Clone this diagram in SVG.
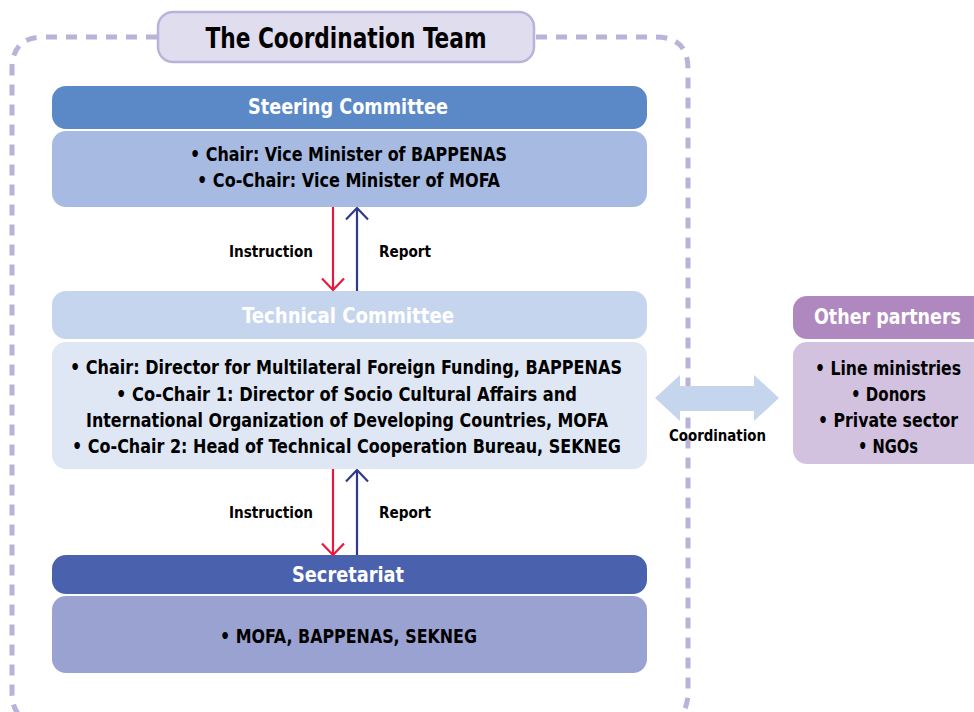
<svg xmlns="http://www.w3.org/2000/svg" width="974" height="712" viewBox="0 0 974 712">
<defs>
<style>
text{font-family:"DejaVu Sans Condensed","DejaVu Sans","Liberation Sans",sans-serif;text-anchor:middle;dominant-baseline:central;font-weight:bold}
.hd{fill:#fff;font-size:21px}
.bd{fill:#000;font-size:19px}
.lb{fill:#000;font-size:16px}
</style>
<marker id="ah-red" viewBox="0 0 14 24" refX="12.5" refY="12" markerWidth="14" markerHeight="24" markerUnits="userSpaceOnUse" orient="auto-start-reverse">
<path d="M1,1 L12.5,12 L1,23" fill="none" stroke="#e8193c" stroke-width="2.2"/>
</marker>
<marker id="ah-blue" viewBox="0 0 14 24" refX="12.5" refY="12" markerWidth="14" markerHeight="24" markerUnits="userSpaceOnUse" orient="auto-start-reverse">
<path d="M1,1 L12.5,12 L1,23" fill="none" stroke="#2e3a8c" stroke-width="2.2"/>
</marker>
</defs>
<rect width="974" height="712" fill="#fff"/>
<g id="frame">
<path d="M157,37 H44 Q12,37 12,69 V692 Q12,724 44,724 M536,37 H656 Q688,37 688,69 V692 Q688,724 656,724" fill="none" stroke="#b9b3d9" stroke-width="5" stroke-dasharray="11,9"/>
</g>
<g id="title">
<rect x="158" y="12" width="376" height="50" rx="15" fill="#e0ddef" stroke="#b9b3d9" stroke-width="2.5"/>
<text x="346" y="38" style="font-size:28px" fill="#000" textLength="281" lengthAdjust="spacingAndGlyphs">The Coordination Team</text>
</g>
<g id="steering">
<rect x="52" y="86" width="595" height="43" rx="14" fill="#5b89c7"/>
<text class="hd" x="348" y="107" textLength="200" lengthAdjust="spacingAndGlyphs">Steering Committee</text>
<rect x="52" y="131" width="595" height="76" rx="14" fill="#a6bae2"/>
<text class="bd" x="348.5" y="154" textLength="317" lengthAdjust="spacingAndGlyphs">• Chair: Vice Minister of BAPPENAS</text>
<text class="bd" x="348.5" y="180" textLength="303" lengthAdjust="spacingAndGlyphs">• Co-Chair: Vice Minister of MOFA</text>
</g>
<g id="technical">
<rect x="52" y="291" width="595" height="48" rx="14" fill="#c6d5ee"/>
<text class="hd" x="348" y="316" textLength="212" lengthAdjust="spacingAndGlyphs">Technical Committee</text>
<rect x="52" y="342" width="595" height="127" rx="14" fill="#dfe7f5"/>
<text class="bd" x="346" y="367" textLength="552" lengthAdjust="spacingAndGlyphs">• Chair: Director for Multilateral Foreign Funding, BAPPENAS</text>
<text class="bd" x="346.5" y="394" textLength="461" lengthAdjust="spacingAndGlyphs">• Co-Chair 1: Director of Socio Cultural Affairs and</text>
<text class="bd" x="347" y="420" textLength="522" lengthAdjust="spacingAndGlyphs">International Organization of Developing Countries, MOFA</text>
<text class="bd" x="346.5" y="446" textLength="549" lengthAdjust="spacingAndGlyphs">• Co-Chair 2: Head of Technical Cooperation Bureau, SEKNEG</text>
</g>
<g id="secretariat">
<rect x="52" y="555" width="595" height="39" rx="14" fill="#4a62ae"/>
<text class="hd" x="348" y="575" textLength="112" lengthAdjust="spacingAndGlyphs">Secretariat</text>
<rect x="52" y="596" width="595" height="77" rx="14" fill="#9aa2d1"/>
<text class="bd" x="348.5" y="636" textLength="257" lengthAdjust="spacingAndGlyphs">• MOFA, BAPPENAS, SEKNEG</text>
</g>
<g id="partners">
<rect x="793" y="296" width="200" height="43" rx="14" fill="#b088c0"/>
<text class="hd" x="887.5" y="317" textLength="147" lengthAdjust="spacingAndGlyphs">Other partners</text>
<rect x="793" y="342" width="200" height="122" rx="14" fill="#d3c1e0"/>
<text class="bd" x="888" y="368" textLength="146" lengthAdjust="spacingAndGlyphs">• Line ministries</text>
<text class="bd" x="888.5" y="394" textLength="75" lengthAdjust="spacingAndGlyphs">• Donors</text>
<text class="bd" x="888" y="420" textLength="140" lengthAdjust="spacingAndGlyphs">• Private sector</text>
<text class="bd" x="888" y="446" textLength="60" lengthAdjust="spacingAndGlyphs">• NGOs</text>
</g>
<g id="connectors">
<line x1="333" y1="207" x2="333" y2="290" stroke="#e8193c" stroke-width="2.2" marker-end="url(#ah-red)"/>
<line x1="357" y1="291" x2="357" y2="208" stroke="#2e3a8c" stroke-width="2.2" marker-end="url(#ah-blue)"/>
<line x1="333" y1="469" x2="333" y2="555" stroke="#e8193c" stroke-width="2.2" marker-end="url(#ah-red)"/>
<line x1="357" y1="555" x2="357" y2="470" stroke="#2e3a8c" stroke-width="2.2" marker-end="url(#ah-blue)"/>
<text class="lb" x="271" y="251" textLength="84" lengthAdjust="spacingAndGlyphs">Instruction</text>
<text class="lb" x="405" y="251" textLength="52" lengthAdjust="spacingAndGlyphs">Report</text>
<text class="lb" x="271" y="512" textLength="84" lengthAdjust="spacingAndGlyphs">Instruction</text>
<text class="lb" x="405" y="512" textLength="52" lengthAdjust="spacingAndGlyphs">Report</text>
<polygon points="655,398 680,375 680,386 754,386 754,375 779,398 754,421 754,411 680,411 680,421" fill="#c6d5ee"/>
<text class="lb" x="717.5" y="435" textLength="97" lengthAdjust="spacingAndGlyphs">Coordination</text>
</g>
</svg>
